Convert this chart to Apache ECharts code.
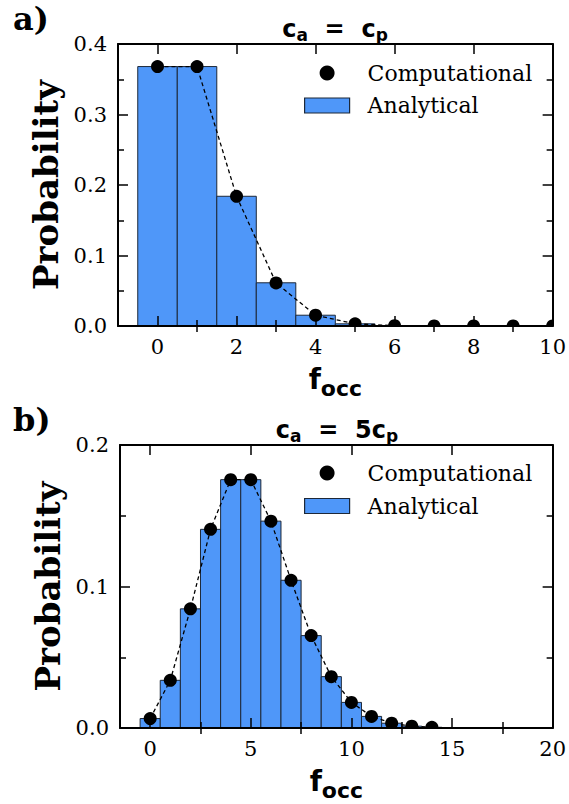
<!DOCTYPE html>
<html><head><meta charset="utf-8">
<script src="https://cdn.jsdelivr.net/npm/echarts@6/dist/echarts.min.js"></script>
<style>html,body{margin:0;padding:0;background:#fff}#c{width:569px;height:804px}</style>
</head><body><div id="c"></div>
<script>
// ---- data ----
const panelLabels = ['a)', 'b)'];
const titleA = '{m|c}{s|a}{m|  =  c}{s|p}';
const titleB = '{m|c}{s|a}{m|  =  5c}{s|p}';
const yLabel = 'Probability';
const xLabel = '{f|f}{s|occ}';
const nameComp = 'Computational';
const nameAna = 'Analytical';

const xTicksA = [0, 2, 4, 6, 8, 10];
const xMinorA = [1, 3, 5, 7, 9];
const xTicksB = [0, 5, 10, 15, 20];
const xMinorB = [2.5, 7.5, 12.5, 17.5];

const occA = [0, 1, 2, 3, 4, 5, 6, 7, 8, 9, 10];
const compA = [0.368, 0.368, 0.184, 0.061, 0.0153, 0.0031, 0.0005, 0.0001, 0, 0, 0];
const barOccA = [0, 1, 2, 3, 4, 5, 6, 7];
const anaA = [0.368, 0.368, 0.184, 0.0613, 0.0153, 0.0031, 0.0005, 0.0001];

const occB = [0, 1, 2, 3, 4, 5, 6, 7, 8, 9, 10, 11, 12, 13, 14];
const compB = [0.0067, 0.0337, 0.0842, 0.1404, 0.1755, 0.1755, 0.1462, 0.1044, 0.0653, 0.0363, 0.0181, 0.0082, 0.0034, 0.0013, 0.0005];
const barOccB = [0, 1, 2, 3, 4, 5, 6, 7, 8, 9, 10, 11, 12, 13, 14, 15];
const anaB = [0.0067, 0.0337, 0.0842, 0.1404, 0.1755, 0.1755, 0.1462, 0.1044, 0.0653, 0.0363, 0.0181, 0.0082, 0.0034, 0.0013, 0.0005, 0.0002];

// ---- style ----
const BAR = '#4f97f9';
const EDGE = '#1d2838';
const SERIF = 'DejaVu Serif';
const SANS = 'DejaVu Sans';

const zip = (a, b) => a.map((v, i) => [v, b[i]]);

function xAxes(grid, min, max, major, minor, withName) {
  const line = {show: true, onZero: false, lineStyle: {color: '#000', width: 2}};
  const base = {gridIndex: grid, type: 'value', min: min, max: max, splitLine: {show: false}, z: 10};
  const tick = (vals, len) => ({show: true, inside: true, length: len, customValues: vals, lineStyle: {color: '#000', width: 1.5}});
  const mainAx = Object.assign({}, base, {
    position: 'bottom', axisLine: line, axisTick: tick(major, 10),
    axisLabel: {show: true, customValues: major, fontFamily: SERIF, fontSize: 21, color: '#000', margin: 10, formatter: v => String(v)}
  });
  if (withName) {
    Object.assign(mainAx, {
      name: xLabel, nameLocation: 'middle', nameGap: 39,
      nameTextStyle: {color: '#000', rich: {
        f: {fontFamily: SANS, fontWeight: 'bold', fontSize: 28, lineHeight: 28, verticalAlign: 'top', color: '#000'},
        s: {fontFamily: SANS, fontWeight: 'bold', fontSize: 22, lineHeight: 22, verticalAlign: 'top', padding: [12, 0, 0, 0], color: '#000'}
      }}
    });
  }
  return [
    mainAx,
    Object.assign({}, base, {position: 'bottom', axisLine: {show: false}, axisTick: tick(minor, 6), axisLabel: {show: false}}),
    Object.assign({}, base, {position: 'top', axisLine: line, axisTick: tick(major, 10), axisLabel: {show: false}}),
    Object.assign({}, base, {position: 'top', axisLine: {show: false}, axisTick: tick(minor, 6), axisLabel: {show: false}})
  ];
}

function yAxes(grid, max) {
  const line = {show: true, onZero: false, lineStyle: {color: '#000', width: 2}};
  const base = {
    gridIndex: grid, type: 'value', min: 0, max: max, interval: 0.1, splitLine: {show: false}, z: 10,
    axisLine: line,
    axisTick: {show: true, inside: true, length: 10, lineStyle: {color: '#000', width: 1.5}},
    minorTick: {show: true, splitNumber: 2, length: 6, lineStyle: {color: '#000', width: 1.5}}
  };
  return [
    Object.assign({}, base, {
      position: 'left',
      axisLabel: {show: true, fontFamily: SERIF, fontSize: 21, color: '#000', margin: 11, formatter: v => v.toFixed(1)},
      name: yLabel, nameLocation: 'middle', nameRotate: 90, nameGap: 49,
      nameTextStyle: {fontFamily: SERIF, fontWeight: 'bold', fontSize: 34, color: '#000'}
    }),
    Object.assign({}, base, {position: 'right', axisLabel: {show: false}})
  ];
}

function barItem(params, api) {
  const x = api.value(0), y = api.value(1);
  const p1 = api.coord([x - 0.5, y]);
  const p2 = api.coord([x + 0.5, 0]);
  return {type: 'rect', shape: {x: p1[0], y: p1[1], width: p2[0] - p1[0], height: p2[1] - p1[1]},
    style: {fill: BAR, stroke: EDGE, lineWidth: 1}};
}
function dotItem(params, api) {
  const c = api.coord([api.value(0), api.value(1)]);
  return {type: 'circle', shape: {cx: c[0], cy: c[1], r: 6.5}, style: {fill: '#000'}};
}

function panelSeries(xi, yi, barX, barY, ptX, ptY) {
  return [
    {type: 'custom', name: nameAna, xAxisIndex: xi, yAxisIndex: yi, renderItem: barItem, data: zip(barX, barY),
      itemStyle: {color: BAR, borderColor: EDGE, borderWidth: 1}, z: 2, silent: true},
    {type: 'line', name: 'dashed-' + xi, xAxisIndex: xi, yAxisIndex: yi, data: zip(ptX, ptY), showSymbol: false, symbol: 'none',
      lineStyle: {color: '#000', width: 1.3, type: [4, 3]}, z: 3, silent: true, clip: true},
    {type: 'custom', name: nameComp, xAxisIndex: xi, yAxisIndex: yi, renderItem: dotItem, data: zip(ptX, ptY),
      itemStyle: {color: '#000'}, z: 4, clip: true, silent: true}
  ];
}

function legendAt(top, gap) {
  return {
    left: 304, top: top, orient: 'vertical', padding: 0, itemWidth: 45, itemHeight: 15, itemGap: gap,
    selectedMode: false,
    textStyle: {fontFamily: SERIF, fontSize: 22, color: '#000', padding: [0, 0, 0, 13]},
    data: [
      {name: nameComp, icon: 'circle', itemStyle: {color: '#000', borderWidth: 0}},
      {name: nameAna, icon: 'rect', itemStyle: {color: BAR, borderColor: EDGE, borderWidth: 1.2}}
    ]
  };
}

const titleRich = {
  m: {fontFamily: SANS, fontWeight: 'bold', fontSize: 24, lineHeight: 24, verticalAlign: 'top', fill: '#000'},
  s: {fontFamily: SANS, fontWeight: 'bold', fontSize: 17, lineHeight: 17, verticalAlign: 'top', padding: [9, 0, 0, 0], fill: '#000'}
};

const chart = echarts.init(document.getElementById('c'), null, {renderer: 'svg'});
chart.setOption({
  animation: false,
  backgroundColor: '#fff',
  grid: [
    {left: 118, top: 44, width: 435, height: 282},
    {left: 120, top: 445, width: 434, height: 283}
  ],
  xAxis: [].concat(xAxes(0, -1, 10, xTicksA, xMinorA, true), xAxes(1, -1.5, 20, xTicksB, xMinorB, true)),
  yAxis: [].concat(yAxes(0, 0.4), yAxes(1, 0.2)),
  legend: [legendAt(62, 10.5), legendAt(462, 11)],
  series: [].concat(
    panelSeries(0, 0, barOccA, anaA, occA, compA),
    panelSeries(4, 2, barOccB, anaB, occB, compB)
  ),
  graphic: [
    {type: 'text', x: 13, y: 19, style: {text: panelLabels[0], font: 'bold 32px "DejaVu Serif"', fill: '#000', align: 'left', verticalAlign: 'middle'}},
    {type: 'text', x: 13, y: 420, style: {text: panelLabels[1], font: 'bold 32px "DejaVu Serif"', fill: '#000', align: 'left', verticalAlign: 'middle'}},
    {type: 'text', x: 335, y: 29, style: {text: titleA, rich: titleRich, align: 'center', verticalAlign: 'middle'}},
    {type: 'text', x: 337, y: 430, style: {text: titleB, rich: titleRich, align: 'center', verticalAlign: 'middle'}}
  ]
});
</script>
</body></html>
